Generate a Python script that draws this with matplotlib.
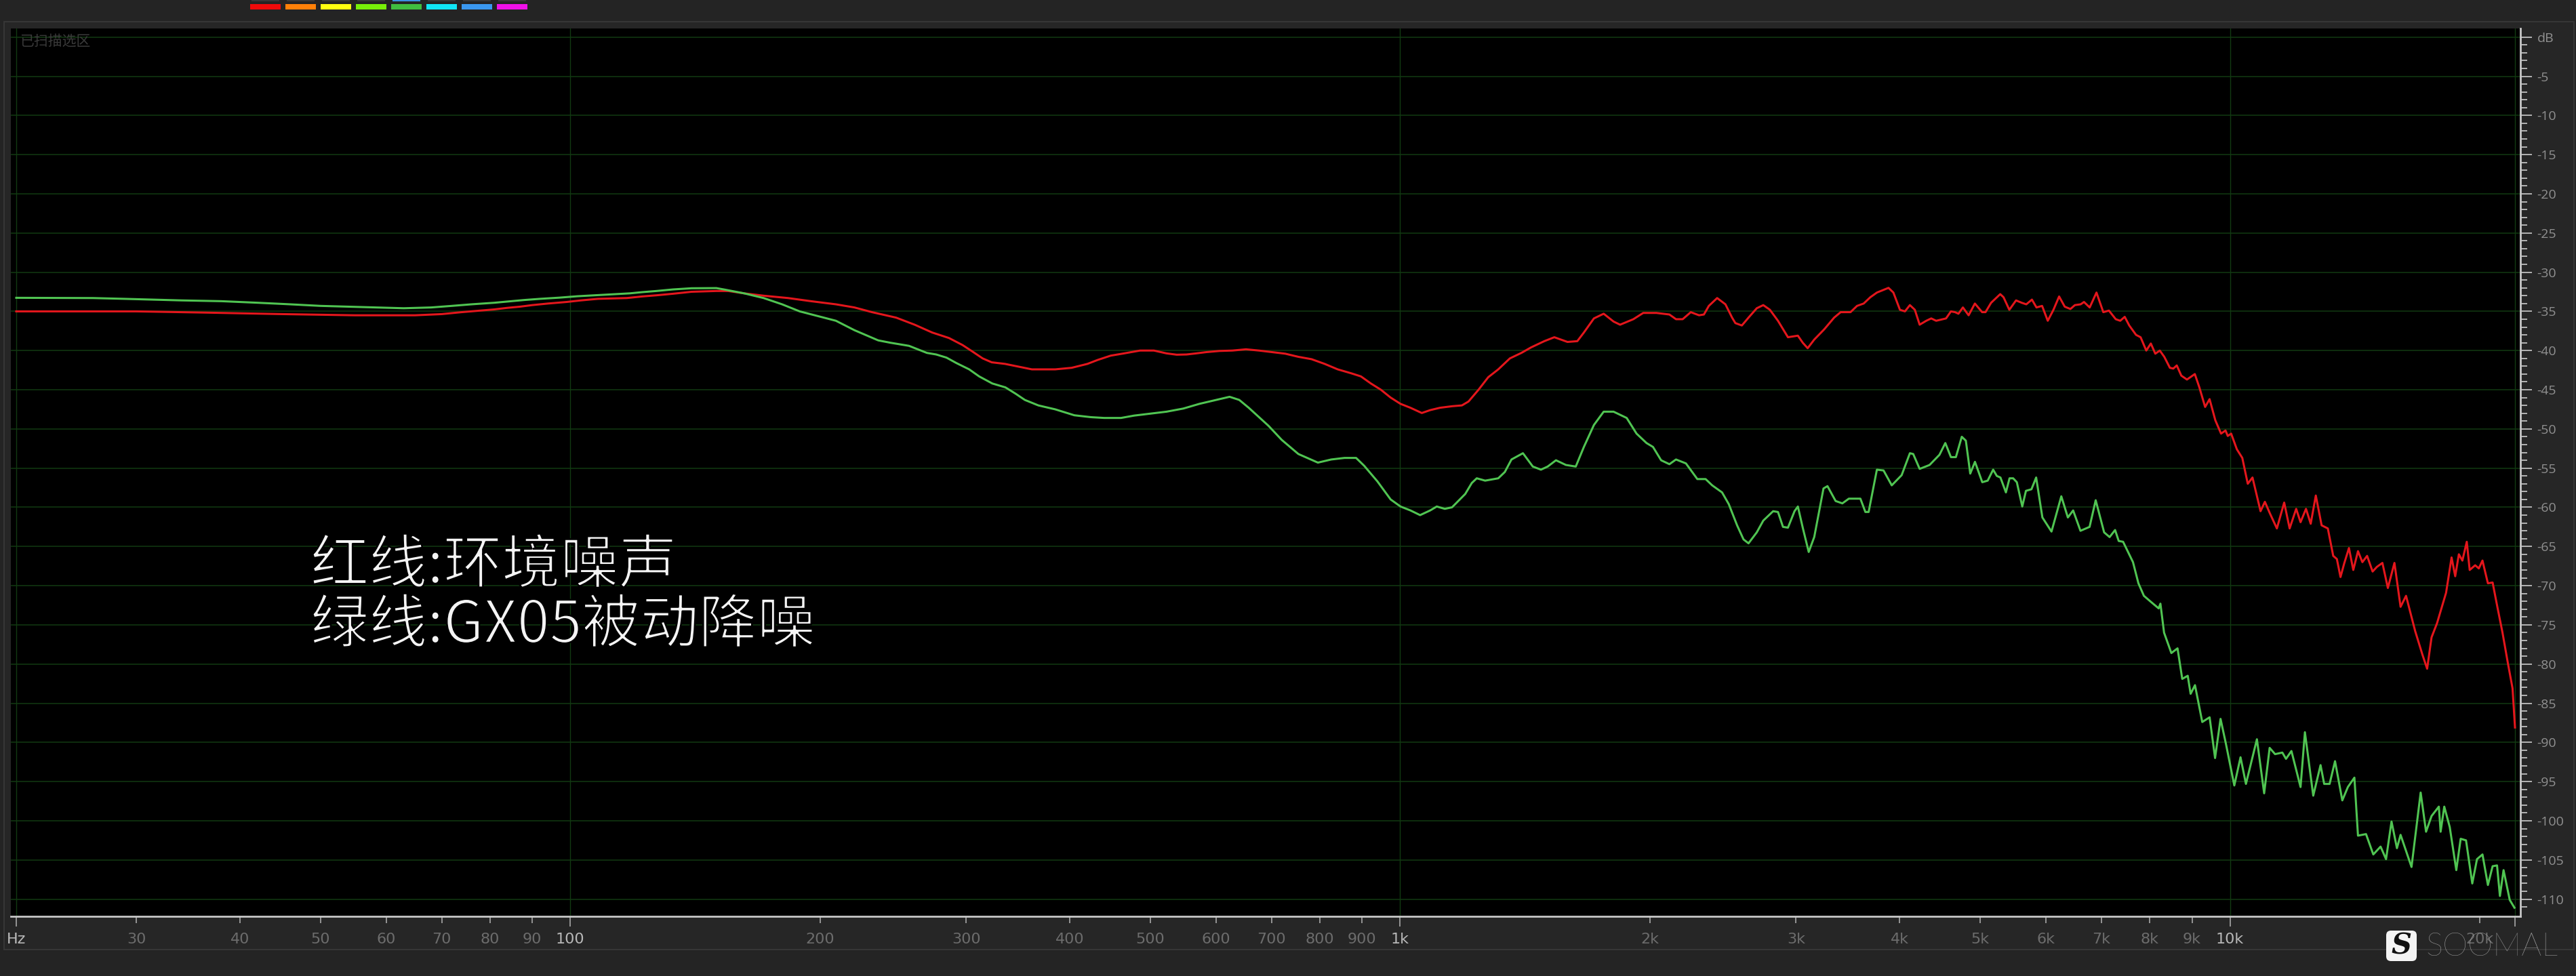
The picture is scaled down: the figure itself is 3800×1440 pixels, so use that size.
import matplotlib
matplotlib.use('Agg')
import matplotlib.pyplot as plt
import matplotlib.patheffects as pe
from matplotlib.patches import Rectangle, FancyBboxPatch
from matplotlib.ticker import FixedLocator, FixedFormatter

# ---- data (Hz, dB) ----
red_freq = [21.5, 30, 36, 45, 55, 65, 70, 74, 77, 81, 84, 87, 90, 94, 99, 103, 108, 117, 122, 127,
            133, 140, 150, 155, 162, 171, 183, 195, 209, 220, 231, 247, 260, 273,
            286, 297, 305, 314, 322, 334, 347, 360, 384, 402, 420, 432, 448, 465, 486, 505,
            523, 538, 553, 568, 584, 606, 628, 652, 676, 701, 727, 754, 782, 811, 841, 873,
            897, 922, 948, 974, 1001, 1029, 1062, 1087, 1117, 1156,
            1187, 1209, 1243, 1277, 1313, 1356, 1400, 1438, 1492, 1534, 1562, 1591, 1635, 1665,
            1712, 1759, 1808, 1841, 1910, 1963, 2036, 2111, 2150, 2190, 2240, 2292, 2323, 2355,
            2410, 2466, 2512, 2535, 2581, 2629, 2690, 2739, 2790, 2853, 2933, 3015, 3056, 3098,
            3155, 3243, 3334, 3395, 3489, 3553, 3619, 3686, 3754, 3877, 3930, 4002, 4058, 4114,
            4171, 4227, 4305, 4365, 4425, 4548, 4610,
            4663, 4707, 4766, 4842, 4927, 5027, 5074, 5154, 5286, 5335, 5421, 5523, 5610, 5682,
            5772, 5845, 5937, 6031, 6127, 6224, 6322, 6422, 6503, 6607, 6669, 6775, 6904, 7036,
            7147, 7283, 7374, 7467, 7561, 7705, 7803, 7927, 8028, 8128, 8230, 8333, 8464, 8544,
            8627, 8736, 8874, 9070, 9185, 9333, 9449, 9601, 9755, 9876, 9938, 10032,
            10192, 10347, 10505, 10644, 10884, 11016, 11162, 11389, 11622, 11799, 12015, 12162,
            12347, 12510, 12688, 12894, 13118, 13316, 13451, 13588, 13725, 13910, 14078, 14263,
            14438, 14629, 14853, 15033, 15263, 15496, 15781, 16052, 16298, 16716, 17055, 17280,
            17492, 17760, 18213, 18492, 18680, 18870, 19055, 19289, 19445, 19743, 19945, 20148,
            20453, 20723, 20978, 21299, 21620, 21900, 22050]
red_db = [-35.0, -35.0, -35.15, -35.35, -35.5, -35.5, -35.35, -35.1, -34.95, -34.75, -34.55, -34.4,
          -34.2, -34.0, -33.8, -33.6, -33.4, -33.3, -33.1, -32.95, -32.75, -32.5, -32.4, -32.4,
          -32.7, -33.0, -33.3, -33.7, -34.1, -34.5, -35.1, -35.8, -36.7, -37.7,
          -38.4, -39.3, -40.1, -41.0, -41.5, -41.7, -42.06, -42.4, -42.4, -42.2, -41.7, -41.2,
          -40.65, -40.36, -40.0, -40.0, -40.36, -40.53, -40.5, -40.36, -40.2, -40.05, -40.0,
          -39.84, -40.0, -40.2, -40.4, -40.8, -41.1, -41.7, -42.4, -42.9, -43.3, -44.2, -45.0,
          -46.0, -46.8, -47.3, -47.97, -47.6, -47.3, -47.1,
          -47.0, -46.5, -45.0, -43.4, -42.4, -41.0, -40.3, -39.6, -38.8, -38.3, -38.6, -38.9,
          -38.8, -37.7, -35.9, -35.3, -36.3, -36.7, -36.0, -35.2, -35.2, -35.4, -36.0, -36.0,
          -35.1, -35.5, -35.4, -34.3, -33.3, -34.1, -35.8, -36.5, -36.8, -35.8, -34.6, -34.2,
          -34.8, -36.2, -38.3, -38.1, -39.0, -39.7, -38.6, -37.3, -35.8, -35.1, -35.1, -34.3,
          -34.0, -33.2, -32.6, -32.0, -32.6, -34.8, -35.0, -34.2, -34.8, -36.7, -36.2, -35.9,
          -36.2, -35.9, -35.0,
          -35.1, -35.3, -34.5, -35.5, -34.0, -35.1, -35.1, -33.9, -32.8, -33.2, -34.8, -33.6,
          -33.9, -34.1, -33.5, -34.5, -34.3, -36.2, -34.8, -33.1, -34.4, -34.7, -34.2, -34.1,
          -33.8, -34.5, -32.6, -35.1, -34.9, -36.0, -36.2, -35.7, -36.8, -38.0, -38.3, -40.0,
          -39.1, -40.4, -40.0, -40.8, -42.2, -42.3, -41.9, -43.2, -43.7, -43.0, -44.7, -47.2,
          -46.2, -48.9, -50.6, -50.2, -50.9, -50.6,
          -52.6, -53.7, -57.0, -56.2, -60.5, -59.3, -60.7, -62.7, -59.4, -62.7, -60.2, -61.9,
          -60.2, -62.1, -58.5, -62.3, -62.7, -66.2, -66.6, -68.9, -67.2, -65.2, -68.0, -65.6,
          -67.0, -66.2, -68.2, -67.6, -67.1, -70.3, -67.1, -72.7, -71.3, -75.8, -78.8, -80.6,
          -76.6, -74.8, -70.9, -66.4, -68.8, -66.0, -66.8, -64.4, -68.0, -67.4, -67.8, -66.8,
          -69.7, -69.6, -72.5, -76.0, -79.9, -83.1, -88.1]

green_freq = [21.5, 26.6, 29, 34, 38, 42, 46, 50, 56, 63, 68, 72, 76, 81, 84, 88, 92, 97, 102, 109,
              118, 122, 127, 133, 140, 150, 154, 162, 171, 180, 189, 202, 209, 220, 235, 243, 256,
              269,
              276, 284, 292, 302.5, 311, 322.5, 334.5, 344, 353, 366.5, 384, 405, 424, 440, 461,
              478, 500, 523, 548, 573, 600, 623, 640, 657, 676, 694, 720, 754, 796, 826, 857, 885,
              905, 939, 974, 1001, 1029, 1057, 1087, 1107, 1132,
              1155, 1198, 1220, 1237, 1266, 1313, 1337, 1362, 1406, 1445, 1478, 1506, 1541, 1584,
              1628, 1665, 1712, 1759, 1808, 1875, 1927, 1981, 2017, 2063, 2111, 2150, 2210, 2281,
              2334, 2377, 2443, 2489, 2547, 2593, 2629, 2690, 2739, 2815, 2853, 2893, 2933, 2987,
              3015, 3056, 3107, 3155, 3237, 3273, 3348, 3411, 3473, 3586, 3636, 3669, 3754, 3824,
              3912, 4021, 4114, 4152, 4227, 4345, 4466, 4539, 4610, 4674, 4751,
              4805, 4864, 4928, 5029, 5105, 5183, 5236, 5289, 5370, 5424, 5479, 5535, 5619, 5677,
              5764, 5840, 5942, 6094, 6262, 6377, 6471, 6604, 6773, 6889, 7052, 7160, 7270, 7343,
              7433, 7640, 7756, 7875, 8036, 8204, 8244, 8328, 8498, 8645, 8759, 8893, 8965, 9074,
              9259, 9450, 9594, 9741, 9888, 10120, 10296, 10452, 10775, 10994, 11162, 11332,
              11563, 11681, 11858, 12162, 12310, 12598, 12856, 12986, 13183, 13383, 13656, 13868,
              14122, 14263, 14585, 14882, 15186, 15418, 15654, 15891, 16052, 16547, 16972, 17228,
              17492, 17850, 17939, 18121, 18398, 18736, 18965, 19249, 19585, 19844, 20148, 20453,
              20723, 20978, 21147, 21362, 21730, 22017]
green_db = [-33.27, -33.3, -33.4, -33.6, -33.7, -33.9, -34.1, -34.3, -34.45, -34.6, -34.5, -34.3,
            -34.1, -33.9, -33.75, -33.55, -33.4, -33.25, -33.07, -32.9, -32.7, -32.55, -32.4,
            -32.2, -32.05, -32.03, -32.25, -32.7, -33.3, -34.1, -35.0, -35.8, -36.2, -37.4, -38.7,
            -39.0, -39.4, -40.3,
            -40.5, -40.9, -41.6, -42.4, -43.3, -44.2, -44.7, -45.5, -46.3, -47.0, -47.5, -48.26,
            -48.5, -48.6, -48.6, -48.3, -48.05, -47.8, -47.4, -46.8, -46.3, -45.9, -46.3, -47.3,
            -48.5, -49.6, -51.4, -53.2, -54.3, -53.9, -53.7, -53.7, -54.7, -56.7, -59.0, -59.9,
            -60.4, -61.0, -60.4, -59.9, -60.2,
            -60.0, -58.3, -56.9, -56.3, -56.6, -56.3, -55.5, -53.9, -53.1, -54.8, -55.2, -54.8,
            -54.0, -54.6, -54.8, -52.3, -49.5, -47.8, -47.8, -48.6, -50.6, -51.8, -52.3, -54.0,
            -54.5, -53.9, -54.4, -56.4, -56.4, -57.2, -58.1, -59.6, -62.3, -64.1, -64.6, -63.2,
            -61.7, -60.5, -60.6, -62.5, -62.6, -60.5, -59.9, -62.6, -65.7, -63.8, -57.6, -57.3,
            -59.2, -59.5, -58.9, -58.9, -60.6, -60.6, -55.2, -55.3, -57.2, -55.9, -53.1, -53.2,
            -55.1, -54.6, -53.3, -51.8, -53.6, -53.6, -51.0,
            -51.5, -55.7, -54.2, -56.8, -56.6, -55.2, -56.0, -56.2, -58.1, -56.3, -56.3, -56.8,
            -59.9, -57.9, -57.7, -56.2, -61.3, -63.1, -58.6, -61.3, -60.4, -63.0, -62.5, -59.1,
            -63.2, -63.8, -62.9, -64.3, -64.4, -67.0, -69.7, -71.3, -72.1, -72.9, -72.3, -76.0,
            -78.6, -78.0, -81.9, -81.5, -83.8, -82.7, -87.4, -86.8, -92.0, -87.0, -90.2, -95.5,
            -91.9, -95.3, -89.6, -96.5, -90.7, -91.5, -91.3, -92.1, -91.1, -95.7, -88.7, -96.8,
            -92.9, -95.3, -95.3, -92.4, -97.4, -95.7, -94.5, -101.9, -101.7, -104.3, -103.3,
            -104.9, -100.1, -103.5, -101.8, -105.9, -96.4, -101.4, -99.4, -98.2, -101.4, -98.2,
            -100.8, -106.3, -102.3, -102.5, -108.0, -104.9, -104.3, -108.2, -105.8, -105.7,
            -109.6, -106.3, -110.1, -111.1]

# axis ticks / labels
grid_freqs = [21.5, 100, 1000, 10000, 22050]
major_labels = ['Hz', '100', '1k', '10k', '']
minor_freqs = [30, 40, 50, 60, 70, 80, 90, 200, 300, 400, 500, 600, 700, 800, 900,
               2000, 3000, 4000, 5000, 6000, 7000, 8000, 9000, 20000]
minor_labels = ['30', '40', '50', '60', '70', '80', '90', '200', '300', '400', '500', '600',
                '700', '800', '900', '2k', '3k', '4k', '5k', '6k', '7k', '8k', '9k', '20k']
db_major = list(range(0, -111, -5))
db_labels = ['dB'] + [str(v) for v in db_major[1:]]

legend_lines = ['红线:环境噪声', '绿线:GX05被动降噪']
toolbar_colors = ['#f00a0a', '#ff8008', '#ffff10', '#78f008', '#40bd40', '#10e6f6', '#3a98f0', '#f010e8']

W, H = 3800, 1440


def fx(x):
    return x / W


def fy(y):
    return 1 - y / H


fig = plt.figure(figsize=(W / 100, H / 100), dpi=100, facecolor='#242424')

# outer panel
fig.add_artist(Rectangle((fx(6), fy(1401)), (3797 - 6) / W, (1401 - 32) / H,
                         transform=fig.transFigure, facecolor='#262626', edgecolor='#363636',
                         linewidth=1.5, zorder=0))

# toolbar colour chips
for i, c in enumerate(toolbar_colors):
    x0 = 369 + i * 52
    fig.add_artist(Rectangle((x0, H - 14), 45, 8, transform=None, facecolor=c, edgecolor='none'))
    tab = '#3a8fe2' if i == 4 else '#383838'
    fig.add_artist(Rectangle((x0 + 2, H - 2), 41, 2, transform=None, facecolor=tab, edgecolor='none'))

ax = fig.add_axes([fx(16), fy(1352), (3718 - 16) / W, (1352 - 42) / H])
ax.set_facecolor('black')
ax.set_xscale('log')
ax.set_xlim(21.18, 22384)
ax.set_ylim(-112.2, 1.1)

grid_c = '#123a12'
for v in db_major:
    ax.axhline(v, color=grid_c, lw=1.1, zorder=1)
for f in grid_freqs:
    ax.axvline(f, color=grid_c, lw=1.0, zorder=1)

ax.plot(red_freq, red_db, color='#e4161c', lw=2.2, zorder=3)
ax.plot(green_freq, green_db, color='#50c452', lw=2.2, zorder=4)

# spines
for s in ['top', 'left']:
    ax.spines[s].set_visible(False)
for s in ['bottom', 'right']:
    ax.spines[s].set_color('#c8c8c8')
    ax.spines[s].set_linewidth(2.0)

# x axis
ax.xaxis.set_major_locator(FixedLocator(grid_freqs))
ax.xaxis.set_major_formatter(FixedFormatter(major_labels))
ax.xaxis.set_minor_locator(FixedLocator(minor_freqs))
ax.xaxis.set_minor_formatter(FixedFormatter(minor_labels))
ax.tick_params(axis='x', which='major', length=10.8, width=1.1, color='#b4b4b4', pad=6.5,
               labelsize=16, labelcolor='#b8b8b8')
ax.tick_params(axis='x', which='minor', length=7.2, width=1.1, color='#b4b4b4', pad=10.1,
               labelsize=16, labelcolor='#6c6c6c')
for lbl in ax.get_xticklabels(which='both'):
    lbl.set_fontfamily(['Liberation Sans Narrow', 'DejaVu Sans'])

# y axis on the right
ax.yaxis.tick_right()
ax.yaxis.set_major_locator(FixedLocator(db_major))
ax.yaxis.set_major_formatter(FixedFormatter(db_labels))
ax.yaxis.set_minor_locator(FixedLocator([v for v in range(-111, 0) if v % 5]))
ax.tick_params(axis='y', which='major', length=12.2, width=1.4, color='#b4b4b4', pad=5.5,
               labelsize=14, labelcolor='#909090')
ax.tick_params(axis='y', which='minor', length=7.2, width=1.4, color='#b4b4b4')
for lbl in ax.get_yticklabels():
    lbl.set_fontfamily(['Open Sans', 'DejaVu Sans'])

# faint caption inside the plot
fig.text(fx(29), fy(50), '已扫描选区', fontsize=15, color='#3a3a3a', va='top', ha='left',
         family=['Noto Sans CJK SC', 'DejaVu Sans'])

# legend text (black outline trims the strokes to a light weight)
thin = [pe.Normal(), pe.Stroke(linewidth=1.8, foreground='black')]
for i, line in enumerate(legend_lines):
    fig.text(fx(458), fy(860 + i * 88), line, fontsize=62, color='#f4f4f4', va='baseline',
             ha='left', family=['Noto Sans CJK SC', 'DejaVu Sans'], fontweight='light',
             path_effects=thin)

# watermark logo
fig.add_artist(FancyBboxPatch((3520, H - 1418), 45, 45, boxstyle='round,pad=0,rounding_size=7',
                              transform=None, facecolor='#f4f4f4', edgecolor='none', zorder=5))
fig.text(fx(3542), fy(1396), 'S', fontsize=30, color='#111111', ha='center', va='center',
         fontweight='bold', fontstyle='italic', family='DejaVu Serif', zorder=6)
fig.text(fx(3578), fy(1397), 'SOOMAL', fontsize=34, color='#b4b4b4', ha='left', va='center',
         family=['Lato', 'DejaVu Sans'], fontweight='light', alpha=0.9, zorder=6)

fig.savefig('out.png', dpi=100, facecolor=fig.get_facecolor())
